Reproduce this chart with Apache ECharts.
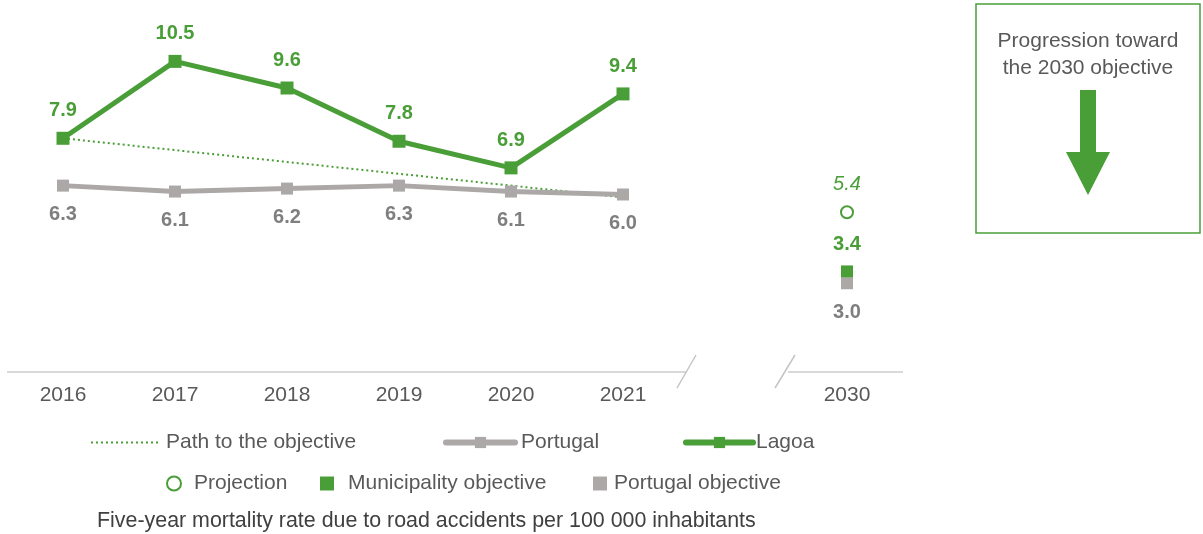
<!DOCTYPE html>
<html><head><meta charset="utf-8">
<script src="https://cdn.jsdelivr.net/npm/echarts@6/dist/echarts.min.js"></script>
<style>html,body{margin:0;padding:0;background:#fff}#c{width:1203px;height:534px}</style>
</head><body><div id="c"></div>
<script>
const categories = ['2016','2017','2018','2019','2020','2021','','2030'];
const lagoa = [7.9, 10.5, 9.6, 7.8, 6.9, 9.4, '-', '-'];
const portugal = [6.3, 6.1, 6.2, 6.3, 6.1, 6.0, '-', '-'];
const pathToObjective = [7.9, '-', '-', '-', '-', 5.9, '-', '-'];
const projection = ['-', '-', '-', '-', '-', '-', '-', 5.4];
const municipalityObjective = ['-', '-', '-', '-', '-', '-', '-', 3.4];
const portugalObjective = ['-', '-', '-', '-', '-', '-', '-', 3.0];

const GREEN = '#4A9E38', GREY = '#ACA8A7', LGREY = '#7F7F7F', TXT = '#595959';
const FONT = '"Liberation Sans", Arial, sans-serif';

const chart = echarts.init(document.getElementById('c'));

function leg(name, left, top, w, h, textPad, extra) {
  return Object.assign({ data: [name], left: left, top: top, itemWidth: w, itemHeight: h, itemGap: 0, padding: 0,
    textStyle: { color: TXT, fontSize: 21, fontFamily: FONT, padding: [0, 0, 0, textPad] },
    selectedMode: false }, extra || {});
}

chart.setOption({
  animation: false,
  textStyle: { fontFamily: FONT },
  grid: { left: 7, right: 300, top: 17, bottom: 162 },
  xAxis: { type: 'category', data: categories, boundaryGap: true,
    axisLine: { show: false }, axisTick: { show: false },
    axisLabel: { color: TXT, fontSize: 21, margin: 13, fontFamily: FONT } },
  yAxis: { type: 'value', min: 0, max: 12, show: false, splitLine: { show: false } },
  legend: [
    leg('Path to the objective', 90, 432, 70, 14, 0, { itemStyle: { opacity: 0 }, lineStyle: { width: 2 } }),
    leg('Portugal', 443, 432, 69, 14, 1, { lineStyle: { width: 6, cap: 'round' } }),
    leg('Lagoa', 683, 432, 67, 14, -2, { lineStyle: { width: 6, cap: 'round' } }),
    leg('Projection', 166, 473, 14, 14, 8),
    leg('Municipality objective', 320, 473, 14, 14, 9),
    leg('Portugal objective', 593, 473, 14, 14, 2)
  ],
  series: [
    { name: 'Path to the objective', type: 'line', data: pathToObjective, connectNulls: true,
      symbol: 'none', lineStyle: { color: GREEN, width: 2, type: [2, 3] }, itemStyle: { color: GREEN }, z: 2 },
    { name: 'Portugal', type: 'line', data: portugal, symbol: 'rect', symbolSize: 12,
      lineStyle: { color: GREY, width: 5 }, itemStyle: { color: GREY },
      label: { show: true, position: 'bottom', distance: 13, color: LGREY, fontWeight: 'bold', fontSize: 20, formatter: p => p.value.toFixed(1) }, z: 3 },
    { name: 'Lagoa', type: 'line', data: lagoa, symbol: 'rect', symbolSize: 13,
      lineStyle: { color: GREEN, width: 5 }, itemStyle: { color: GREEN },
      label: { show: true, position: 'top', distance: 11, color: GREEN, fontWeight: 'bold', fontSize: 20, formatter: p => p.value.toFixed(1) }, z: 4 },
    { name: 'Projection', type: 'scatter', data: projection, symbol: 'circle', symbolSize: 12,
      itemStyle: { color: '#fff', borderColor: GREEN, borderWidth: 2, opacity: 1 },
      label: { show: true, position: 'top', distance: 11, color: GREEN, fontStyle: 'italic', fontSize: 20, formatter: p => p.value.toFixed(1) } },
    { name: 'Portugal objective', type: 'scatter', data: portugalObjective, symbol: 'rect', symbolSize: 12,
      itemStyle: { color: GREY, opacity: 1 },
      label: { show: true, position: 'bottom', distance: 13, color: LGREY, fontWeight: 'bold', fontSize: 20, formatter: p => p.value.toFixed(1) } },
    { name: 'Municipality objective', type: 'scatter', data: municipalityObjective, symbol: 'rect', symbolSize: 12,
      itemStyle: { color: GREEN, opacity: 1 },
      label: { show: true, position: 'top', distance: 11, color: GREEN, fontWeight: 'bold', fontSize: 20, formatter: p => p.value.toFixed(1) } }
  ]
});

// axis line with break, placed from the chart's own scale
const y0 = chart.convertToPixel({ yAxisIndex: 0 }, 0);
const bc = chart.convertToPixel({ xAxisIndex: 0 }, 6);
const x0 = 7, x1 = 1203 - 300;
const axisStyle = { stroke: '#D9D9D9', lineWidth: 2 };
const slashStyle = { stroke: '#C4C4C4', lineWidth: 1.5 };
chart.setOption({
  graphic: [
    { type: 'line', shape: { x1: x0, y1: y0, x2: bc - 48, y2: y0 }, style: axisStyle },
    { type: 'line', shape: { x1: bc + 53, y1: y0, x2: x1, y2: y0 }, style: axisStyle },
    { type: 'line', shape: { x1: bc - 39, y1: y0 - 17, x2: bc - 58, y2: y0 + 16 }, style: slashStyle },
    { type: 'line', shape: { x1: bc + 60, y1: y0 - 17, x2: bc + 40, y2: y0 + 16 }, style: slashStyle },
    { type: 'text', x: 97, y: 521, style: { text: 'Five-year mortality rate due to road accidents per 100 000 inhabitants', fill: '#404040', fontSize: 21.4, fontFamily: FONT, verticalAlign: 'middle' } },
    { type: 'rect', shape: { x: 976, y: 4, width: 224, height: 229 }, style: { fill: '#fff', stroke: GREEN, lineWidth: 1.5 } },
    { type: 'text', x: 1088, y: 41, style: { text: 'Progression toward', fill: TXT, fontSize: 21, fontFamily: FONT, align: 'center', verticalAlign: 'middle' } },
    { type: 'text', x: 1088, y: 68, style: { text: 'the 2030 objective', fill: TXT, fontSize: 21, fontFamily: FONT, align: 'center', verticalAlign: 'middle' } },
    { type: 'polygon', shape: { points: [[1080, 90], [1096, 90], [1096, 152], [1110, 152], [1088, 195], [1066, 152], [1080, 152]] }, style: { fill: GREEN } }
  ]
});
</script></body></html>
